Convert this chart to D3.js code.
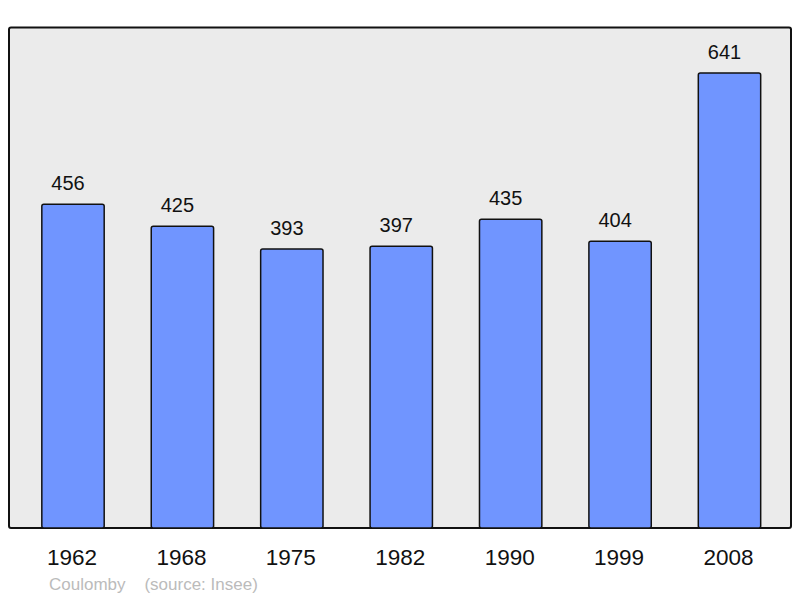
<!DOCTYPE html>
<html><head><meta charset="utf-8">
<script src="https://cdn.jsdelivr.net/npm/d3@7"></script>
<style>body{margin:0;background:#fff}svg{display:block}</style>
</head><body>
<script>
const years = ["1962","1968","1975","1982","1990","1999","2008"];
const population = [456,425,393,397,435,404,641];
const sourceText = ["Coulomby", "(source: Insee)"];

const W = 800, H = 598;
const svg = d3.select("body").append("svg").attr("width", W).attr("height", H);
const frame = {x0: 9, y0: 27.5, x1: 791, y1: 528};
const font = "Liberation Sans, Arial, sans-serif";

svg.append("rect").attr("x", frame.x0).attr("y", frame.y0)
  .attr("width", frame.x1 - frame.x0).attr("height", frame.y1 - frame.y0)
  .attr("rx", 2).attr("fill", "#ebebeb").attr("stroke", "#111").attr("stroke-width", 2);

const x = d3.scaleBand().domain(years).range([18.3, 784.2]).paddingInner(0.43).paddingOuter(0.215);
const y = d3.scaleLinear().domain([0, 705]).range([frame.y1, frame.y0]);

const data = years.map((yr, i) => ({year: yr, value: population[i]}));

svg.selectAll("rect.bar").data(data).enter().append("rect").attr("class", "bar")
  .attr("x", d => x(d.year)).attr("y", d => y(d.value))
  .attr("width", x.bandwidth()).attr("height", d => y(0) - y(d.value))
  .attr("rx", 2).attr("fill", "#7095ff").attr("stroke", "#111").attr("stroke-width", 1.5);

svg.selectAll("text.val").data(data).enter().append("text").attr("class", "val")
  .attr("x", d => x(d.year) + x.bandwidth() / 2 - 5).attr("y", d => y(d.value) - 14)
  .attr("text-anchor", "middle").attr("font-family", font)
  .attr("font-size", 20).attr("fill", "#111").text(d => d.value);

const xAxis = d3.axisBottom(x).tickSize(0).tickPadding(0);
const ax = svg.append("g").attr("transform", `translate(0,${frame.y1})`).call(xAxis);
ax.select(".domain").remove();
ax.selectAll("text").attr("y", 37).attr("dy", null).attr("x", -1)
  .attr("font-family", font).attr("font-size", 22.5).attr("fill", "#111");

svg.append("text").attr("x", 49).attr("y", 590)
  .attr("font-family", font).attr("font-size", 17).attr("fill", "#bbbbbb")
  .attr("xml:space", "preserve").style("white-space", "pre")
  .text(sourceText[0] + "    " + sourceText[1]);
</script>
</body></html>
